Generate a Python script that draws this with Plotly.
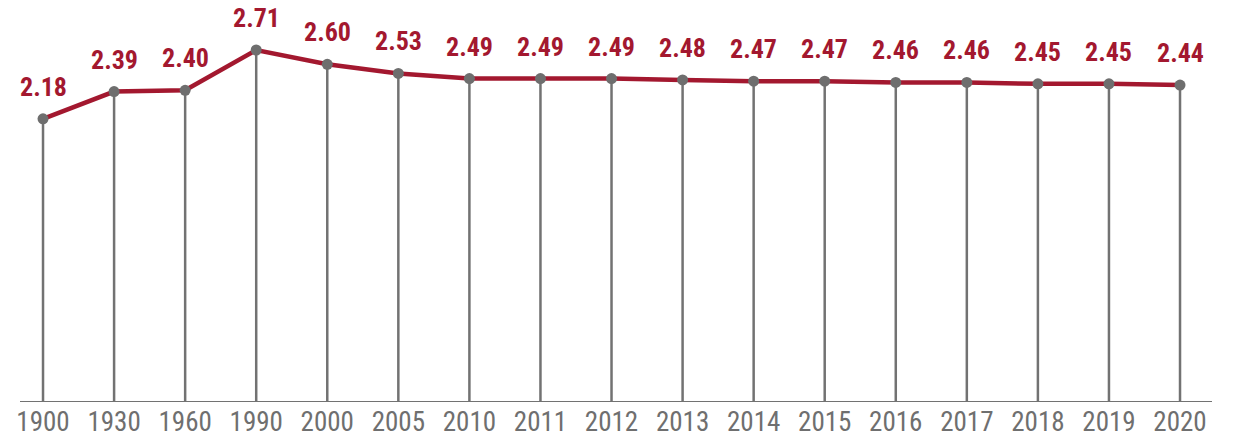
import plotly.graph_objects as go

years = ["1900", "1930", "1960", "1990", "2000", "2005", "2010", "2011", "2012",
         "2013", "2014", "2015", "2016", "2017", "2018", "2019", "2020"]
values = [2.18, 2.39, 2.40, 2.71, 2.60, 2.53, 2.49, 2.49, 2.49,
          2.48, 2.47, 2.47, 2.46, 2.46, 2.45, 2.45, 2.44]

RED = "#A3182F"
GRAY = "#727272"
FONT = "Roboto Condensed, Liberation Sans Narrow, DejaVu Sans Condensed, sans-serif"
idx = list(range(len(years)))

# vertical stems from the baseline up to each point
stem_x, stem_y = [], []
for i, v in zip(idx, values):
    stem_x += [i, i, None]
    stem_y += [0, v, None]

fig = go.Figure()
fig.add_trace(go.Scatter(x=stem_x, y=stem_y, mode="lines",
                         line=dict(color=GRAY, width=2.5), hoverinfo="skip"))
fig.add_trace(go.Scatter(x=idx, y=values, mode="lines",
                         line=dict(color=RED, width=4.5)))
fig.add_trace(go.Scatter(x=idx, y=values, mode="markers",
                         marker=dict(color="#6E6E6E", size=11)))

for i, v in zip(idx, values):
    fig.add_annotation(x=i, y=v, text=f"{v:.2f}", showarrow=False,
                       yanchor="bottom", yshift=15,
                       font=dict(family=FONT, size=26, color=RED, weight="bold"))

fig.update_layout(
    width=1246, height=441,
    margin=dict(l=20, r=34, t=10, b=39),
    paper_bgcolor="white", plot_bgcolor="white",
    showlegend=False,
    xaxis=dict(range=[-0.324, 16.45], tickmode="array", tickvals=idx, ticktext=years,
               showgrid=False, zeroline=False, showline=False, ticks="",
               automargin=False, ticklabelstandoff=1,
               tickfont=dict(family=FONT, size=27, color="#6F6F6F")),
    yaxis=dict(range=[0, 3.018], visible=False, automargin=False),
)
# baseline
fig.add_shape(type="line", xref="paper", yref="y", x0=0, x1=1, y0=0, y1=0,
              line=dict(color=GRAY, width=2))

fig.write_html("out.html")
